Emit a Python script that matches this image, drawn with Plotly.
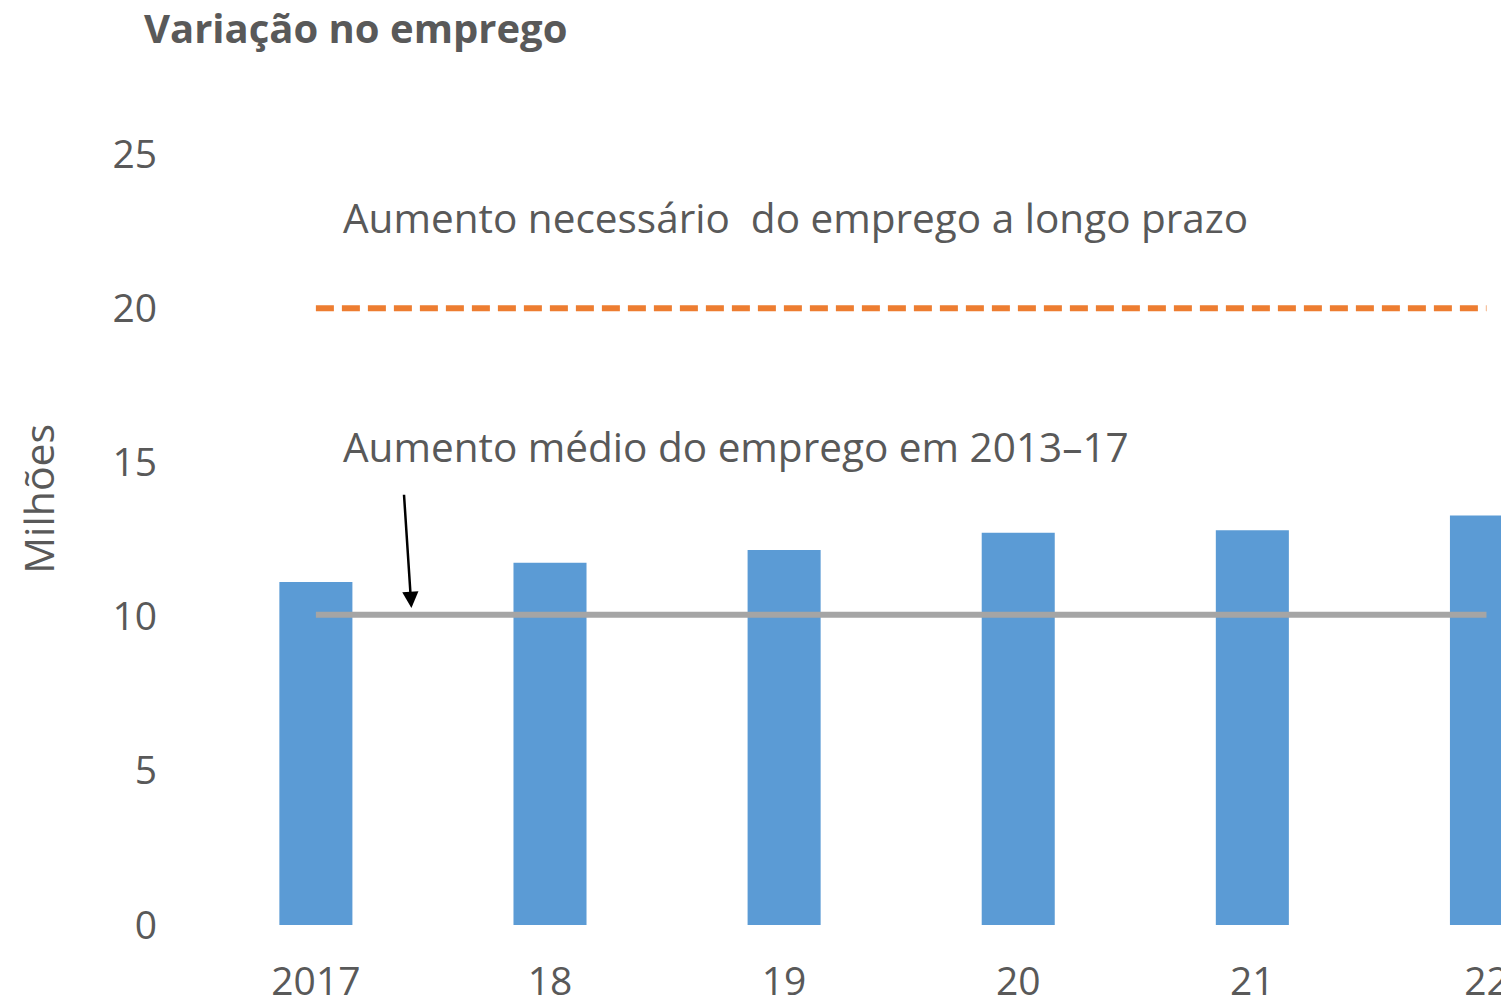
import plotly.graph_objects as go

categories = ["2017", "18", "19", "20", "21", "22"]
employment_change = [11.12, 11.75, 12.16, 12.72, 12.80, 13.28]
avg_2013_17 = [10.06] * 6
required_long_term = [20.0] * 6
y_ticks = [0, 5, 10, 15, 20, 25]

xpos = list(range(len(categories)))
TXT = "#595959"
FONT = "Open Sans"

fig = go.Figure()
fig.add_trace(go.Bar(x=xpos, y=employment_change, width=0.312,
                     marker=dict(color="#5B9BD5", line=dict(width=0)),
                     showlegend=False))
fig.add_trace(go.Scatter(x=xpos, y=avg_2013_17, mode="lines",
                         line=dict(color="#A5A5A5", width=6),
                         showlegend=False))
fig.add_trace(go.Scatter(x=xpos, y=required_long_term, mode="lines",
                         line=dict(color="#ED7D31", width=6, dash="18px,8px"),
                         showlegend=False))

fig.update_layout(
    width=1501, height=998,
    margin=dict(l=192, r=0, t=146, b=78),
    plot_bgcolor="white", paper_bgcolor="white",
    font=dict(family=FONT, color=TXT, size=39),
    xaxis=dict(range=[-0.495, 5.092], tickmode="array", tickvals=xpos,
               ticktext=categories, showgrid=False, zeroline=False,
               showline=False, ticks="", ticklabelstandoff=30,
               ticklabeloverflow="allow",
               tickfont=dict(size=39, color=TXT, family=FONT)),
    yaxis=dict(range=[0, 25], tickmode="array", tickvals=y_ticks,
               showgrid=False, zeroline=False, showline=False, ticks="",
               ticklabelstandoff=42,
               tickfont=dict(size=39, color=TXT, family=FONT)),
)

fig.add_annotation(text="<b>Variação no emprego</b>", xref="paper", yref="paper",
                   x=-0.0443, y=1.1645, xanchor="left", yanchor="middle",
                   showarrow=False, font=dict(size=40, color=TXT, family=FONT))
fig.add_annotation(text="Milhões", xref="paper", yref="paper",
                   x=-0.1245, y=0.553, xanchor="center", yanchor="middle",
                   textangle=-90, showarrow=False,
                   font=dict(size=41, color=TXT, family=FONT))
fig.add_annotation(text="Aumento necessário  do emprego a longo prazo",
                   xref="x", yref="y", x=0.107, y=22.94, xanchor="left",
                   yanchor="middle", showarrow=False,
                   font=dict(size=40.5, color=TXT, family=FONT))
fig.add_annotation(text="Aumento médio do emprego em 2013–17",
                   xref="x", yref="y", x=0.107, y=15.5, xanchor="left",
                   yanchor="middle", showarrow=False,
                   font=dict(size=40.5, color=TXT, family=FONT))
fig.add_annotation(text="", xref="x", yref="y", x=0.408, y=10.28,
                   axref="x", ayref="y", ax=0.376, ay=14.0,
                   showarrow=True, arrowhead=2, arrowsize=1.3, arrowwidth=2.5,
                   arrowcolor="black")

fig.write_html("out.html")
